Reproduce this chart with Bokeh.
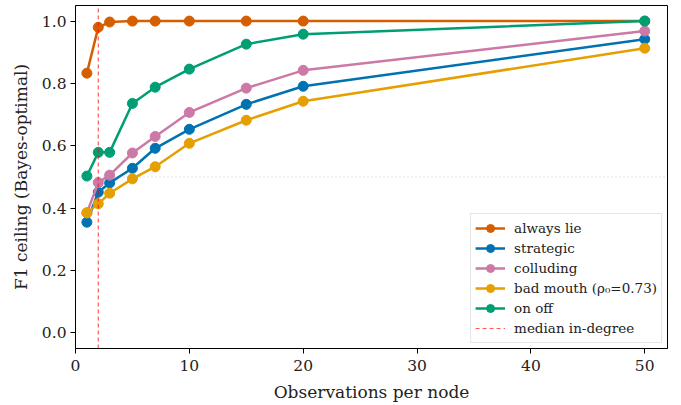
from bokeh.plotting import figure
from bokeh.models import Span, Range1d, FixedTicker, Legend, LegendItem, NumeralTickFormatter
from bokeh.embed import file_html
from bokeh.resources import INLINE

# ---- data ----
obs = [1, 2, 3, 5, 7, 10, 15, 20, 50]
always_lie = [0.833, 0.980, 0.997, 1.0, 1.0, 1.0, 1.0, 1.0, 1.0]
strategic = [0.355, 0.451, 0.481, 0.528, 0.592, 0.653, 0.733, 0.791, 0.942]
colluding = [0.385, 0.482, 0.506, 0.577, 0.630, 0.707, 0.785, 0.842, 0.968]
bad_mouth = [0.385, 0.414, 0.448, 0.494, 0.533, 0.608, 0.682, 0.743, 0.913]
on_off = [0.503, 0.579, 0.579, 0.736, 0.788, 0.846, 0.926, 0.958, 1.0]
series_labels = ["always lie", "strategic", "colluding", "bad mouth (ρ₀=0.73)", "on off"]
series_colors = ["#D55E00", "#0072B2", "#CC79A7", "#E69F00", "#009E73"]
median_in_degree = 2
reference_level = 0.5
x_lim = (0, 52)
y_lim = (-0.05, 1.05)
x_ticks = [0, 10, 20, 30, 40, 50]
y_ticks = [0.0, 0.2, 0.4, 0.6, 0.8, 1.0]

FONT = "DejaVu Serif"

p = figure(width=681, height=405, output_backend="svg", toolbar_location=None,
           x_range=Range1d(*x_lim), y_range=Range1d(*y_lim),
           min_border_left=75, min_border_right=14, min_border_top=5, min_border_bottom=57)
p.grid.visible = False
p.outline_line_color = "black"
p.outline_line_width = 1
p.background_fill_color = "white"
p.border_fill_color = "white"

for ax in (p.xaxis[0], p.yaxis[0]):
    ax.major_label_text_font = FONT
    ax.major_label_text_font_size = "15.5px"
    ax.major_label_text_color = "#222222"
    ax.axis_label_text_font = FONT
    ax.axis_label_text_font_size = "17px"
    ax.axis_label_text_font_style = "normal"
    ax.axis_label_text_color = "#222222"
    ax.major_tick_in = 0
    ax.major_tick_out = 5
    ax.minor_tick_in = 0
    ax.minor_tick_out = 0
    ax.axis_line_color = "black"
    ax.major_tick_line_color = "black"

p.xaxis.ticker = FixedTicker(ticks=x_ticks)
p.yaxis.ticker = FixedTicker(ticks=y_ticks)
p.yaxis.formatter = NumeralTickFormatter(format="0.0")
p.xaxis.axis_label = "Observations per node"
p.yaxis.axis_label = "F1 ceiling (Bayes-optimal)"
p.xaxis.axis_label_standoff = 8
p.yaxis.axis_label_standoff = 8
p.xaxis.major_label_standoff = 6
p.yaxis.major_label_standoff = 4

# reference horizontal line
p.add_layout(Span(location=reference_level, dimension="width", line_color="#999999",
                  line_alpha=0.6, line_width=1, line_dash="1 3"))

items = []
for ys, lab, col in zip([always_lie, strategic, colluding, bad_mouth, on_off], series_labels, series_colors):
    r1 = p.line(obs, ys, line_color=col, line_width=2.5)
    r2 = p.scatter(obs, ys, size=10, fill_color=col, line_color=col)
    items.append(LegendItem(label=lab, renderers=[r1, r2]))

# median in-degree vertical line, spanning the full y range
med = p.line(x=[median_in_degree, median_in_degree], y=list(y_lim), line_color="red",
             line_alpha=0.65, line_width=1.2, line_dash="4 3")
items.append(LegendItem(label="median in-degree", renderers=[med]))

legend = Legend(items=items, location="bottom_right")
legend.label_text_font = FONT
legend.label_text_font_size = "13.5px"
legend.label_text_color = "#222222"
legend.label_height = 20
legend.glyph_height = 20
legend.glyph_width = 30
legend.label_standoff = 9
legend.spacing = 0
legend.padding = 4
legend.margin = 5
legend.border_line_color = "#cccccc"
legend.border_line_width = 1
legend.background_fill_alpha = 0.9
p.add_layout(legend)

open("out.html", "w").write(file_html(p, INLINE))
